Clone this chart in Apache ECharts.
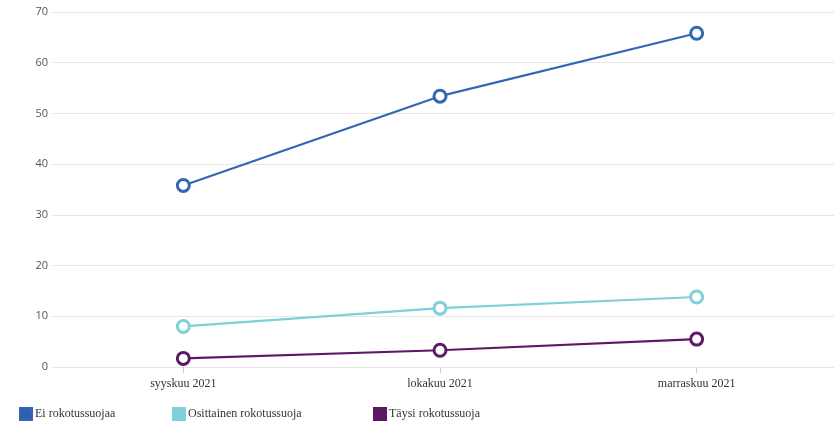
<!DOCTYPE html>
<html><head><meta charset="utf-8">
<script src="https://cdn.jsdelivr.net/npm/echarts@6/dist/echarts.min.js"></script>
<style>html,body{margin:0;padding:0;background:#fff}#c{width:834px;height:421px}</style>
</head><body><div id="c"></div>
<script>
const categories = ['syyskuu 2021', 'lokakuu 2021', 'marraskuu 2021'];
const seriesNames = ['Ei rokotussuojaa', 'Osittainen rokotussuoja', 'Täysi rokotussuoja'];
const eiValues = [35.8, 53.4, 65.8];
const osittainenValues = [8.0, 11.6, 13.8];
const taysiValues = [1.7, 3.3, 5.5];
const yTicks = [0, 10, 20, 30, 40, 50, 60, 70];

const colors = ['#3566b3', '#7fd0d8', '#5c1a64'];
const legendColors = ['#2f5fae', '#7fd0d8', '#5c1a64'];
const allValues = [eiValues, osittainenValues, taysiValues];
const chart = echarts.init(document.getElementById('c'));
const serif = '"Liberation Serif", "Times New Roman", serif';
const legendLefts = [19, 172, 373];
chart.setOption({
  animation: false,
  grid: [
    {left: 52, right: 0, top: 12, bottom: 54},
    {left: 55, right: 9, top: 12, bottom: 54}
  ],
  xAxis: [
    {gridIndex: 0, type: 'category', data: categories, show: false},
    {gridIndex: 1, type: 'category', data: categories, boundaryGap: true,
     axisLine: {show: false},
     axisTick: {show: true, alignWithLabel: true, length: 6, lineStyle: {color: '#cccccc'}},
     axisLabel: {fontFamily: serif, fontSize: 12, color: '#333', margin: 11}}
  ],
  yAxis: [
    {gridIndex: 0, type: 'value', min: yTicks[0], max: yTicks[yTicks.length-1], interval: 10,
     axisLine: {show: false}, axisTick: {show: false},
     axisLabel: {fontFamily: '"Open Sans", "Noto Sans", sans-serif', fontSize: 11, color: '#555', margin: 4},
     splitLine: {lineStyle: {color: '#e6e6e6', width: 1}}},
    {gridIndex: 1, type: 'value', min: yTicks[0], max: yTicks[yTicks.length-1], interval: 10, show: false,
     splitLine: {show: false}}
  ],
  legend: seriesNames.map((n, i) => ({
    data: [{name: n, itemStyle: {color: legendColors[i]}}],
    left: legendLefts[i], top: 407, padding: 0, itemWidth: 12, itemHeight: 12, icon: 'rect', itemGap: 4,
    textStyle: {fontFamily: serif, fontSize: 12, color: '#333', padding: [0, 0, 0, -2]}
  })),
  series: seriesNames.map((n, i) => ({
    name: n, type: 'line', xAxisIndex: 1, yAxisIndex: 1, data: allValues[i],
    symbol: 'circle', symbolSize: 12,
    lineStyle: {color: colors[i], width: 2.2},
    itemStyle: {color: '#ffffff', borderColor: colors[i], borderWidth: 3},
    emphasis: {disabled: true}
  }))
});
</script></body></html>
